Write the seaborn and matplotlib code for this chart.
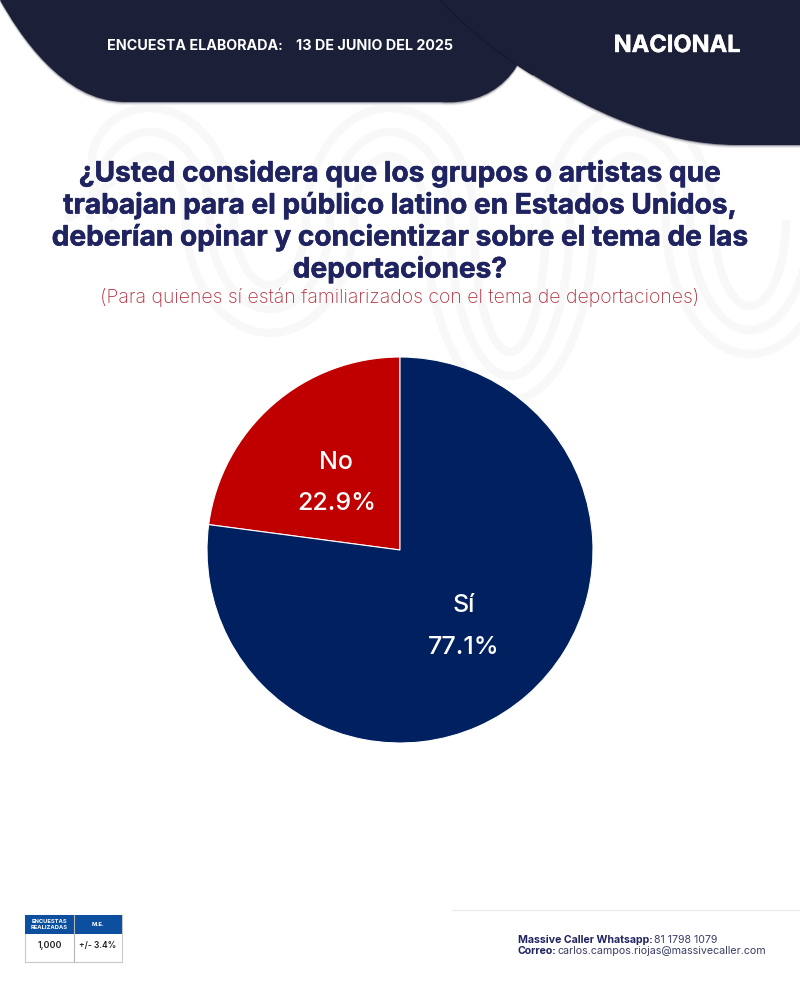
import pandas as pd
import matplotlib
matplotlib.use("Agg")
import matplotlib.pyplot as plt
import matplotlib.patheffects as pe
import seaborn as sns
from matplotlib.path import Path
import matplotlib.patches as patches

# data
answers = ["Sí", "No"]
shares = [77.1, 22.9]
answer_colors = {"Sí": "#00205f", "No": "#c00000"}

header_left = "ENCUESTA ELABORADA:"
header_date = "13 DE JUNIO DEL 2025"
header_right = "NACIONAL"
title_lines = [
    "¿Usted considera que los grupos o artistas que",
    "trabajan para el público latino en Estados Unidos,",
    "deberían opinar y concientizar sobre el tema de las",
    "deportaciones?",
]
subtitle = "(Para quienes sí están familiarizados con el tema de deportaciones)"
table_heads = ["ENCUESTAS\nREALIZADAS", "M.E."]
table_vals = ["1,000", "+/- 3.4%"]

df = pd.DataFrame({"answer": answers, "share": shares})

NAVY = "#1b2038"
TITLE = "#1f2360"
sns.set_theme(style="white")
plt.rcParams["font.family"] = ["Inter", "DejaVu Sans"]

fig = plt.figure(figsize=(8, 10), dpi=100)
bg = fig.add_axes([0, 0, 1, 1])
bg.set_xlim(0, 800)
bg.set_ylim(1000, 0)
bg.axis("off")

C, M, L, Z = Path.CURVE4, Path.MOVETO, Path.LINETO, Path.CLOSEPOLY
K = 0.55


def half_loop(cx, half, ymid, tip):
    # half ellipse from left leg to right leg, tip is the top or bottom
    return [(cx - half, ymid + (tip - ymid) * K), (cx - half * K, tip), (cx, tip),
            (cx + half * K, tip), (cx + half, ymid + (tip - ymid) * K), (cx + half, ymid)]


# faint watermark wave behind the title
for d in [-24, 0, 24]:
    verts = [(90 + d, 220)]
    for cx, hump, tip in [(150, True, 132 - d), (270, False, 309 - d), (390, True, 132 - d),
                          (510, False, 376 - d), (630, True, 132 - d), (750, False, 330 - d)]:
        half = 60 + d if hump else 60 - d
        verts += half_loop(cx, half, 220, tip)
    codes = [M] + [C] * (len(verts) - 1)
    bg.add_patch(patches.PathPatch(Path(verts, codes), fc="none", ec="#f8f8f9", lw=6, zorder=1))

# header shapes, soft shadow first
left_verts = [(0, 0), (18, 32), (62, 102), (125, 102), (440, 102), (490, 106), (533, 75), (533, 0), (0, 0)]
left_codes = [M, C, C, C, L, C, C, L, Z]
right_verts = [(440, 0), (470, 32), (505, 58), (533, 75), (590, 110), (660, 145), (737, 145),
               (800, 145), (800, 0), (440, 0)]
right_codes = [M, C, C, C, C, C, C, L, L, Z]
for dy, col in [(3, "#ececee"), (2, "#d2d2d6"), (1, "#9a9aa4")]:
    for v, c in [(left_verts, left_codes), (right_verts, right_codes)]:
        bg.add_patch(patches.PathPatch(Path([(x, y + dy) for x, y in v], c), fc=col, ec="none", zorder=2))
for v, c in [(left_verts, left_codes), (right_verts, right_codes)]:
    bg.add_patch(patches.PathPatch(Path(v, c), fc=NAVY, ec="none", zorder=3))
# seam between the two shapes
bg.add_patch(patches.PathPatch(Path(right_verts[:4], right_codes[:4]), fc="none", ec="#141829", lw=0.7, zorder=4))

for x, txt in [(194.5, header_left), (375, header_date)]:
    bg.text(x, 45.5, txt, color="white", fontsize=10.3, fontweight="bold", ha="center", va="center", zorder=5)
bg.text(677, 46, header_right, color="white", fontsize=17, fontweight="bold", ha="center", va="center", zorder=5,
        path_effects=[pe.withStroke(linewidth=0.3, foreground="white")])

for y, line in zip([173.5, 205.5, 237.5, 269.5], title_lines):
    bg.text(400, y, line, color=TITLE, fontsize=20.2, fontweight="bold", ha="center", va="center", zorder=5,
            path_effects=[pe.withStroke(linewidth=0.4, foreground=TITLE)])
bg.text(400, 297.5, subtitle, color="#b5313f", fontsize=14, fontweight="light", ha="center", va="center", zorder=5)

# pie
ax = fig.add_axes([207 / 800, 1 - 743 / 1000, 386 / 800, 386 / 1000])
ax.set_zorder(3)
order = df.sort_values("share")
wedges, _ = ax.pie(order["share"], colors=[answer_colors[a] for a in order["answer"]],
                   startangle=90, radius=1, wedgeprops=dict(edgecolor="white", linewidth=0.8))
ax.set_xlim(-1, 1)
ax.set_ylim(-1, 1)
label_pos = {"Sí": (0.33, -0.4), "No": (-0.33, 0.344)}
for a, s in zip(order["answer"], order["share"]):
    x, y = label_pos[a]
    ax.text(x, y + 0.11, a, color="white", fontsize=18, fontweight="medium", ha="center", va="center")
    ax.text(x, y - 0.105, f"{s}%", color="white", fontsize=18, fontweight="medium", ha="center", va="center")

# small table, bottom left
bg.add_patch(patches.Rectangle((25, 915), 97, 47, fc="white", ec="#c8c8c8", lw=0.8, zorder=4))
bg.add_patch(patches.Rectangle((25, 915), 97, 19, fc="#0b4f9e", ec="none", zorder=5))
bg.plot([73.5, 73.5], [915, 962], color="#b5b5b5", lw=0.8, zorder=6)
bg.text(49.5, 924.5, table_heads[0], color="white", fontsize=4.2, fontweight="bold", ha="center", va="center", zorder=7, linespacing=1.1)
bg.text(98, 924.5, table_heads[1], color="white", fontsize=4.2, fontweight="bold", ha="center", va="center", zorder=7)
bg.text(49.5, 945.5, table_vals[0], color="#222222", fontsize=6.4, fontweight="semibold", ha="center", va="center", zorder=7)
bg.text(98, 945.5, table_vals[1], color="#222222", fontsize=6.1, fontweight="semibold", ha="center", va="center", zorder=7)

# contact block
bg.plot([452, 800], [910, 910], color="#ececec", lw=1, zorder=4)
bg.text(518, 940, "Massive Caller Whatsapp:", color=TITLE, fontsize=7.6, fontweight="bold", va="center", zorder=5)
bg.text(654.5, 940, "81 1798 1079", color="#3a3d6a", fontsize=7.6, va="center", zorder=5)
bg.text(518, 951.5, "Correo:", color=TITLE, fontsize=7.6, fontweight="bold", va="center", zorder=5)
bg.text(558, 951.5, "carlos.campos.riojas@massivecaller.com", color="#3a3d6a", fontsize=7.7, va="center", zorder=5)

fig.savefig("out.png", dpi=100, facecolor="white")
